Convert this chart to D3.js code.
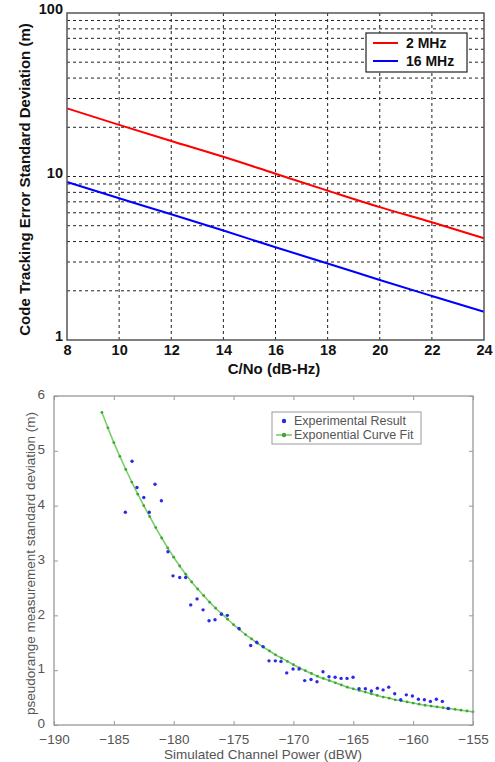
<!DOCTYPE html>
<html><head><meta charset="utf-8">
<script src="https://cdn.jsdelivr.net/npm/d3@7"></script>
<style>body{margin:0;background:#fff}svg{display:block}</style>
</head><body>
<svg id="c" width="495" height="762"></svg>
<script>
// ---- Top chart data ----
const cnoValues = [8, 10, 12, 14, 16, 18, 20, 22, 24];
const err2MHz   = [26.1, 20.7, 16.5, 13.2, 10.4, 8.2, 6.5, 5.25, 4.19];
const err16MHz  = [9.25, 7.36, 5.87, 4.67, 3.69, 2.94, 2.33, 1.86, 1.49];
const topXTicks = [8, 10, 12, 14, 16, 18, 20, 22, 24];
const topYTicks = [1, 10, 100];
const topSeriesNames = ["2 MHz", "16 MHz"];

// ---- Bottom chart data ----
const expPower = [-184.04,-183.48,-183.07,-182.5,-182.04,-181.56,-181.03,-180.48,-180.06,-179.5,-179.0,-178.58,-178.05,-177.55,-177.05,-176.55,-176.02,-175.52,-174.55,-173.57,-173.07,-172.54,-172.04,-171.51,-171.04,-170.56,-170.03,-169.53,-169.06,-168.53,-168.03,-167.53,-167.03,-166.52,-166.02,-165.52,-165.02,-164.52,-163.99,-163.49,-162.99,-162.51,-162.04,-161.54,-161.04,-160.57,-160.06,-159.56,-159.06,-158.56,-158.06,-157.56,-157.08];
const expStd   = [3.88,4.81,4.33,4.15,3.88,4.39,4.09,3.16,2.72,2.69,2.69,2.19,2.30,2.10,1.90,1.92,2.02,2.0,1.76,1.45,1.51,1.43,1.17,1.17,1.16,0.95,1.02,1.02,0.81,0.83,0.79,0.97,0.88,0.87,0.85,0.85,0.87,0.66,0.66,0.62,0.67,0.64,0.69,0.57,0.46,0.55,0.53,0.47,0.46,0.43,0.47,0.43,0.30];
const fitPower = [-186,-185.5,-185,-184.5,-184,-183.5,-183,-182.5,-182,-181.5,-181,-180.5,-180,-179.5,-179,-178.5,-178,-177.5,-177,-176.5,-176,-175.5,-175,-174.5,-174,-173.5,-173,-172.5,-172,-171.5,-171,-170.5,-170,-169.5,-169,-168.5,-168,-167.5,-167,-166.5,-166,-165.5,-165,-164.5,-164,-163.5,-163,-162.5,-162,-161.5,-161,-160.5,-160,-159.5,-159,-158.5,-158,-157.5,-157,-156.5,-156,-155.5,-155];
const fitStd   = [5.70,5.42,5.15,4.90,4.66,4.43,4.21,4.00,3.80,3.60,3.41,3.23,3.06,2.90,2.75,2.61,2.48,2.36,2.24,2.13,2.03,1.93,1.83,1.74,1.65,1.57,1.49,1.42,1.35,1.28,1.22,1.16,1.10,1.04,0.99,0.94,0.89,0.85,0.81,0.77,0.73,0.69,0.66,0.63,0.60,0.57,0.54,0.51,0.49,0.46,0.44,0.42,0.40,0.38,0.36,0.345,0.33,0.315,0.30,0.285,0.27,0.255,0.24];
const botXTicks = [-190,-185,-180,-175,-170,-165,-160,-155];
const botYTicks = [0,1,2,3,4,5,6];
const botSeriesNames = ["Experimental Result", "Exponential Curve Fit"];

const svg = d3.select("#c");
const FF = "Arial, 'Liberation Sans', sans-serif";

// ================= TOP CHART =================
(function(){
  const L = 67, R = 484, T = 13, B = 340;
  const x = d3.scaleLinear().domain([8, 24]).range([L, R]);
  const y = d3.scaleLog().domain([1, 100]).range([B, T]);
  const g = svg.append("g").attr("font-family", FF).attr("font-weight", "bold");

  // grid
  const minor = [];
  [1, 10].forEach(d => { for (let k = 2; k <= 9; k++) minor.push(d * k); });
  minor.push(10);
  g.append("g").selectAll("line.h").data(minor).join("line")
    .attr("x1", L).attr("x2", R).attr("y1", d => y(d)).attr("y2", d => y(d))
    .attr("stroke", "#222").attr("stroke-width", 1).attr("stroke-dasharray", "3,3");
  g.append("g").selectAll("line.v").data(topXTicks.slice(1, -1)).join("line")
    .attr("x1", d => x(d)).attr("x2", d => x(d)).attr("y1", T).attr("y2", B)
    .attr("stroke", "#222").attr("stroke-width", 1).attr("stroke-dasharray", "3,3");

  // lines
  const line = d3.line().x((d, i) => x(cnoValues[i])).y(d => y(d)).curve(d3.curveMonotoneX);
  g.append("path").attr("d", line(err2MHz)).attr("fill", "none").attr("stroke", "#ff0000").attr("stroke-width", 2);
  g.append("path").attr("d", line(err16MHz)).attr("fill", "none").attr("stroke", "#0000ff").attr("stroke-width", 2);

  // frame
  g.append("rect").attr("x", L).attr("y", T).attr("width", R - L).attr("height", B - T)
    .attr("fill", "none").attr("stroke", "#555").attr("stroke-width", 1.5);

  // axes labels
  const xAxis = d3.axisBottom(x).tickValues(topXTicks).tickSize(0).tickPadding(5).tickFormat(d3.format("d"));
  const xa = g.append("g").attr("transform", `translate(0,${B})`).call(xAxis);
  xa.select(".domain").remove();
  xa.selectAll("text").attr("font-size", 14.5).attr("font-family", FF).attr("font-weight", "bold").attr("fill", "#111");
  const yAxis = d3.axisLeft(y).tickValues(topYTicks).tickSize(0).tickPadding(4).tickFormat(d3.format("d"));
  const ya = g.append("g").attr("transform", `translate(${L},0)`).call(yAxis);
  ya.select(".domain").remove();
  ya.selectAll("text").attr("font-size", 14.5).attr("font-family", FF).attr("font-weight", "bold").attr("fill", "#111").attr("dy", "0.05em");

  g.append("text").attr("x", 274).attr("y", 374).attr("text-anchor", "middle")
    .attr("font-size", 15).attr("fill", "#111").text("C/No (dB-Hz)");
  g.append("text").attr("transform", `translate(30,${(T + B) / 2 + 3}) rotate(-90)`).attr("text-anchor", "middle")
    .attr("font-size", 15).attr("fill", "#111").text("Code Tracking Error Standard Deviation (m)");

  // legend
  const lg = g.append("g");
  lg.append("rect").attr("x", 366).attr("y", 33).attr("width", 101).attr("height", 39)
    .attr("fill", "#fff").attr("stroke", "#222").attr("stroke-width", 1.2);
  const colors = ["#ff0000", "#0000ff"];
  topSeriesNames.forEach((n, i) => {
    const yy = 43 + i * 18;
    lg.append("line").attr("x1", 373).attr("x2", 398).attr("y1", yy).attr("y2", yy).attr("stroke", colors[i]).attr("stroke-width", 2);
    lg.append("text").attr("x", 406).attr("y", yy + 5).attr("font-size", 14).attr("fill", "#111").text(n);
  });
})();

// ================= BOTTOM CHART =================
(function(){
  const L = 54, R = 473, T = 396, B = 725;
  const x = d3.scaleLinear().domain([-190, -155]).range([L, R]);
  const y = d3.scaleLinear().domain([0, 6]).range([B, T]);
  const g = svg.append("g").attr("font-family", FF);
  const tc = "#999";

  // fit curve
  const pts = fitPower.map((p, i) => [x(p), y(fitStd[i])]);
  g.append("path").attr("d", d3.line().curve(d3.curveMonotoneX)(pts))
    .attr("fill", "none").attr("stroke", "#7ccf6a").attr("stroke-width", 1.6);
  g.append("g").selectAll("circle").data(pts).join("circle")
    .attr("cx", d => d[0]).attr("cy", d => d[1]).attr("r", 1.4).attr("fill", "#3fa33a");

  // experimental points
  g.append("g").selectAll("circle").data(expPower).join("circle")
    .attr("cx", d => x(d)).attr("cy", (d, i) => y(expStd[i])).attr("r", 1.7).attr("fill", "#2a2ae8");

  // frame
  g.append("rect").attr("x", L).attr("y", T).attr("width", R - L).attr("height", B - T)
    .attr("fill", "none").attr("stroke", tc).attr("stroke-width", 1.3);

  // ticks inside
  const xAxisB = d3.axisBottom(x).tickValues(botXTicks).tickSizeInner(-4).tickSizeOuter(0).tickPadding(9).tickFormat(d3.format("d"));
  const xa = g.append("g").attr("transform", `translate(0,${B})`).call(xAxisB);
  xa.select(".domain").remove();
  xa.selectAll("line").attr("stroke", tc);
  xa.selectAll("text").attr("font-size", 13.5).attr("font-family", FF).attr("fill", "#555");
  const xaT = g.append("g").attr("transform", `translate(0,${T})`).call(d3.axisTop(x).tickValues(botXTicks).tickSizeInner(-4).tickSizeOuter(0).tickFormat(""));
  xaT.select(".domain").remove(); xaT.selectAll("line").attr("stroke", tc);

  const yAxisB = d3.axisLeft(y).tickValues(botYTicks).tickSizeInner(-4).tickSizeOuter(0).tickPadding(9).tickFormat(d3.format("d"));
  const ya = g.append("g").attr("transform", `translate(${L},0)`).call(yAxisB);
  ya.select(".domain").remove();
  ya.selectAll("line").attr("stroke", tc);
  ya.selectAll("text").attr("font-size", 13.5).attr("font-family", FF).attr("fill", "#555").attr("dy", "0.2em");
  const yaR = g.append("g").attr("transform", `translate(${R},0)`).call(d3.axisRight(y).tickValues(botYTicks).tickSizeInner(-4).tickSizeOuter(0).tickFormat(""));
  yaR.select(".domain").remove(); yaR.selectAll("line").attr("stroke", tc);

  g.append("text").attr("x", 263).attr("y", 759).attr("text-anchor", "middle")
    .attr("font-size", 13.5).attr("fill", "#555").text("Simulated Channel Power (dBW)");
  g.append("text").attr("transform", `translate(35,${(T + B) / 2 + 3}) rotate(-90)`).attr("text-anchor", "middle")
    .attr("font-size", 13.5).attr("fill", "#555").text("pseudorange measurement standard deviation (m)");

  // legend
  const lg = g.append("g");
  lg.append("rect").attr("x", 272).attr("y", 412).attr("width", 149).attr("height", 32)
    .attr("fill", "#fff").attr("stroke", "#aaa").attr("stroke-width", 1.2);
  lg.append("circle").attr("cx", 284).attr("cy", 421).attr("r", 2.2).attr("fill", "#2a2ae8");
  lg.append("line").attr("x1", 276).attr("x2", 292).attr("y1", 435).attr("y2", 435).attr("stroke", "#7ccf6a").attr("stroke-width", 1.6);
  lg.append("circle").attr("cx", 284).attr("cy", 435).attr("r", 2.2).attr("fill", "#3fa33a");
  botSeriesNames.forEach((n, i) => {
    lg.append("text").attr("x", 294).attr("y", 425 + i * 14).attr("font-size", 12.5).attr("fill", "#555").text(n);
  });
})();
</script>
</body></html>
